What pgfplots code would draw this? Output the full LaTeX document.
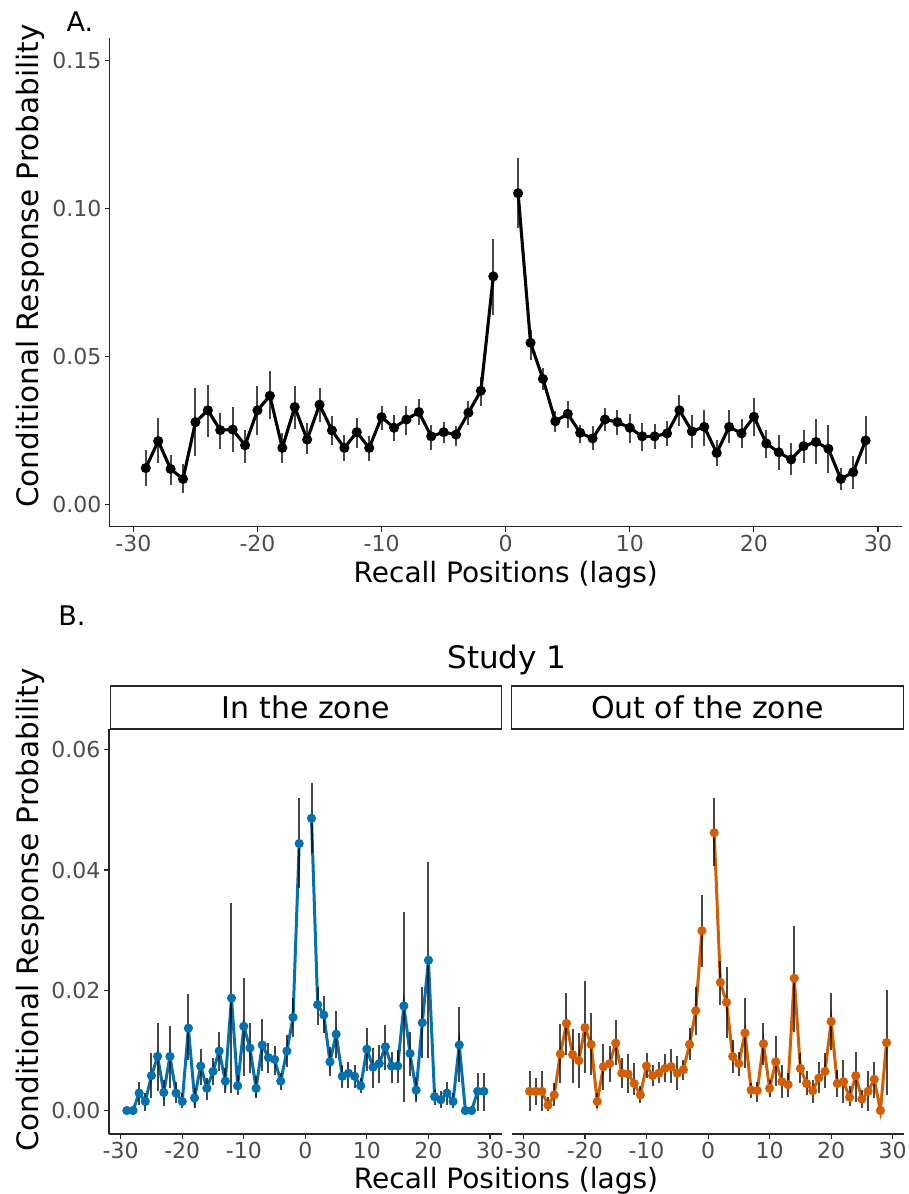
\documentclass[border=0pt]{standalone}
\usepackage{fontspec}
\setmainfont{DejaVu Sans}
\usepackage{pgfplots}
\usepackage{pgfplotstable}
\pgfplotsset{compat=1.18}
\definecolor{zblue}{HTML}{0072B2}
\definecolor{zorange}{HTML}{D55E00}
\newcommand\ticksize{\fontsize{22bp}{26bp}\selectfont}
\newcommand\titlesize{\fontsize{28bp}{32bp}\selectfont}
\newcommand\ytitlesize{\fontsize{29.5bp}{32bp}\selectfont}
\newcommand\stripsize{\fontsize{30bp}{34bp}\selectfont}

\pgfplotstableread{
lag y hi lo
-29 .0123 .0185 .0062
-28 .0214 .0293 .0140
-27 .0120 .0168 .0067
-26 .0086 .0135 .0040
-25 .0278 .0393 .0163
-24 .0318 .0404 .0227
-23 .0251 .0310 .0188
-22 .0253 .0328 .0176
-21 .0200 .0253 .0140
-20 .0318 .0399 .0233
-19 .0367 .0450 .0287
-18 .0191 .0242 .0140
-17 .0329 .0399 .0255
-16 .0219 .0276 .0172
-15 .0337 .0393 .0278
-14 .0250 .0298 .0202
-13 .0191 .0236 .0146
-12 .0244 .0293 .0191
-11 .0191 .0230 .0146
-10 .0295 .0334 .0253
-9 .0259 .0301 .0214
-8 .0287 .0331 .0236
-7 .0312 .0356 .0267
-6 .0230 .0270 .0183
-5 .0244 .0278 .0208
-4 .0236 .0264 .0199
-3 .0310 .0348 .0270
-2 .0384 .0431 .0331
-1 .0770 .0896 .0640
1 .1051 .1169 .0933
2 .0546 .0590 .0489
3 .0424 .0461 .0388
4 .0281 .0314 .0244
5 .0306 .0351 .0259
6 .0242 .0270 .0208
7 .0223 .0264 .0185
8 .0287 .0326 .0247
9 .0278 .0318 .0236
10 .0259 .0307 .0208
11 .0230 .0276 .0180
12 .0230 .0272 .0188
13 .0240 .0281 .0199
14 .0318 .0371 .0264
15 .0247 .0301 .0191
16 .0262 .0320 .0199
17 .0174 .0219 .0129
18 .0262 .0318 .0208
19 .0240 .0287 .0191
20 .0296 .0359 .0230
21 .0206 .0253 .0157
22 .0176 .0236 .0118
23 .0152 .0206 .0101
24 .0197 .0253 .0140
25 .0211 .0287 .0135
26 .0188 .0267 .0107
27 .0086 .0123 .0049
28 .0109 .0163 .0053
29 .0216 .0298 .0138
}\dataA

\pgfplotstableread{
lag y hi lo
-29 0 0 0
-28 0 0 0
-27 .0029 .0048 .0009
-26 .0015 .0029 0
-25 .0058 .0095 .0021
-24 .0090 .0145 .0032
-23 .0030 .0051 .0007
-22 .0090 .0140 .0037
-21 .0029 .0048 .0012
-20 .0015 .0029 .0004
-19 .0137 .0193 .0084
-18 .0021 .0037 .0004
-17 .0074 .0102 .0043
-16 .0037 .0054 .0018
-15 .0065 .0087 .0043
-14 .0099 .0131 .0065
-13 .0049 .0070 .0029
-12 .0187 .0345 .0029
-11 .0041 .0059 .0026
-10 .0140 .0220 .0057
-9 .0104 .0145 .0062
-8 .0037 .0057 .0021
-7 .0109 .0152 .0065
-6 .0088 .0113 .0062
-5 .0085 .0108 .0059
-4 .0049 .0062 .0034
-3 .0099 .0126 .0073
-2 .0155 .0187 .0123
-1 .0444 .0519 .0370
1 .0486 .0544 .0428
2 .0176 .0206 .0142
3 .0159 .0190 .0129
4 .0081 .0106 .0057
5 .0127 .0165 .0087
6 .0057 .0076 .0037
7 .0062 .0081 .0037
8 .0057 .0076 .0037
9 .0041 .0054 .0029
10 .0102 .0137 .0065
11 .0072 .0104 .0037
12 .0078 .0109 .0045
13 .0106 .0142 .0068
14 .0074 .0098 .0045
15 .0074 .0101 .0045
16 .0174 .0331 .0015
17 .0095 .0131 .0057
18 .0034 .0054 .0015
19 .0146 .0206 .0087
20 .0250 .0414 .0087
21 .0023 .0034 .0009
22 .0018 .0032 .0004
23 .0029 .0048 .0009
24 .0015 .0029 .0004
25 .0109 .0173 .0048
26 0 0 0
27 0 0 0
28 .0032 .0062 0
29 .0032 .0062 0
}\dataIn

\pgfplotstableread{
lag y hi lo
-29 .0032 .0065 0
-28 .0032 .0054 .0009
-27 .0032 .0065 0
-26 .0009 .0023 0
-25 .0026 .0045 .0007
-24 .0094 .0144 .0045
-23 .0145 .0195 .0093
-22 .0093 .0135 .0045
-21 .0083 .0129 .0037
-20 .0138 .0215 .0062
-19 .0110 .0162 .0059
-18 .0015 .0029 .0004
-17 .0073 .0110 .0034
-16 .0078 .0108 .0048
-15 .0112 .0151 .0076
-14 .0062 .0087 .0037
-13 .0061 .0094 .0029
-12 .0045 .0079 .0026
-11 .0026 .0040 .0012
-10 .0074 .0095 .0054
-9 .0058 .0076 .0040
-8 .0062 .0080 .0045
-7 .0070 .0094 .0048
-6 .0073 .0102 .0045
-5 .0062 .0090 .0034
-4 .0068 .0084 .0051
-3 .0110 .0138 .0084
-2 .0166 .0206 .0126
-1 .0299 .0359 .0239
1 .0462 .0519 .0406
2 .0213 .0248 .0176
3 .0180 .0238 .0120
4 .0090 .0117 .0062
5 .0078 .0098 .0057
6 .0129 .0187 .0070
7 .0034 .0045 .0021
8 .0033 .0048 .0015
9 .0111 .0145 .0076
10 .0037 .0051 .0022
11 .0081 .0124 .0040
12 .0048 .0076 .0021
13 .0043 .0062 .0023
14 .0220 .0307 .0131
15 .0070 .0095 .0045
16 .0045 .0065 .0026
17 .0033 .0051 .0012
18 .0054 .0081 .0030
19 .0065 .0095 .0037
20 .0148 .0195 .0101
21 .0045 .0068 .0023
22 .0048 .0084 .0012
23 .0022 .0040 .0007
24 .0058 .0098 .0015
25 .0019 .0034 .0004
26 .0032 .0065 0
27 .0052 .0081 .0021
28 0 0 0
29 .0113 .0201 .0026
}\dataOut

\pgfplotsset{
  gg/.style={
    scale only axis,
    axis x line*=bottom, axis y line*=left,
    axis line style={-, black!85, line width=1.1bp},
    tick align=outside, major tick length=5bp,
    every tick/.style={black!85, line width=1.1bp},
    tick label style={font=\ticksize, text=black!70},
    scaled y ticks=false, scaled x ticks=false,
    /pgf/number format/assume math mode=true,
    xmin=-31.9, xmax=31.9,
    xtick={-30,-20,-10,0,10,20,30},
    xticklabels={-30,-20,-10,0,10,20,30},
    clip=false,
  },
  ebars/.style={draw=none, mark=none, forget plot,
    error bars/.cd, y dir=both, y explicit, error mark=none,
    error bar style={draw=black, line width=2bp, opacity=0.72}},
}

\begin{document}
\begin{tikzpicture}
\path[use as bounding box] (0bp,0bp) rectangle (909bp,1194bp);

% Panel A
\begin{axis}[gg, at={(109.8bp,667.3bp)}, anchor=south west,
  width=791.8bp, height=488.7bp,
  ymin=-0.0075, ymax=0.1575,
  ytick={0,0.05,0.10,0.15}, yticklabels={0.00,0.05,0.10,0.15}]
\addplot[black, line width=3.1bp, mark=*, mark size=3.4bp, restrict x to domain=-30:-0.5] table[x=lag,y=y] {\dataA};
\addplot[black, line width=3.1bp, mark=*, mark size=3.4bp, restrict x to domain=0.5:30] table[x=lag,y=y] {\dataA};
\addplot[ebars] table[x=lag,y=y, y error plus expr=\thisrow{hi}-\thisrow{y}, y error minus expr=\thisrow{y}-\thisrow{lo}] {\dataA};
\end{axis}

% Panel B left
\begin{axis}[gg, at={(109bp,60bp)}, anchor=south west,
  width=392.7bp, height=404.7bp,
  ymin=-0.0039, ymax=0.0634,
  ytick={0,0.02,0.04,0.06}, yticklabels={0.00,0.02,0.04,0.06}]
\addplot[zblue, line width=3bp, mark=*, mark size=3bp, restrict x to domain=-30:-0.5] table[x=lag,y=y] {\dataIn};
\addplot[zblue, line width=3bp, mark=*, mark size=3bp, restrict x to domain=0.5:30] table[x=lag,y=y] {\dataIn};
\addplot[ebars] table[x=lag,y=y, y error plus expr=\thisrow{hi}-\thisrow{y}, y error minus expr=\thisrow{y}-\thisrow{lo}] {\dataIn};
\end{axis}

% Panel B right
\begin{axis}[gg, at={(511.7bp,60bp)}, anchor=south west,
  width=392.7bp, height=404.7bp,
  ymin=-0.0039, ymax=0.0634, axis y line=none, ytick=\empty]
\addplot[zorange, line width=3bp, mark=*, mark size=3bp, restrict x to domain=-30:-0.5] table[x=lag,y=y] {\dataOut};
\addplot[zorange, line width=3bp, mark=*, mark size=3bp, restrict x to domain=0.5:30] table[x=lag,y=y] {\dataOut};
\addplot[ebars] table[x=lag,y=y, y error plus expr=\thisrow{hi}-\thisrow{y}, y error minus expr=\thisrow{y}-\thisrow{lo}] {\dataOut};
\end{axis}

% strips
\draw[black!85, line width=1.1bp, fill=white] (110.5bp,465bp) rectangle (501.2bp,508bp);
\draw[black!85, line width=1.1bp, fill=white] (511.3bp,465bp) rectangle (903.5bp,508bp);
\node[font=\stripsize] at (305.8bp,486.5bp) {In the zone};
\node[font=\stripsize] at (707.4bp,486.5bp) {Out of the zone};

% titles and labels
\node[font=\fontsize{27bp}{30bp}\selectfont] at (80bp,1172bp) {A.};
\node[font=\fontsize{27bp}{30bp}\selectfont] at (72bp,578bp) {B.};
\node[font=\fontsize{31bp}{34bp}\selectfont] at (507bp,534bp) {Study 1};
\node[font=\ytitlesize, rotate=90] at (30bp,928bp) {Conditional Response Probability};
\node[font=\titlesize] at (505.7bp,619bp) {Recall Positions (lags)};
\node[font=\ytitlesize, rotate=90] at (30bp,284bp) {Conditional Response Probability};
\node[font=\titlesize] at (506bp,13bp) {Recall Positions (lags)};
\end{tikzpicture}
\end{document}
